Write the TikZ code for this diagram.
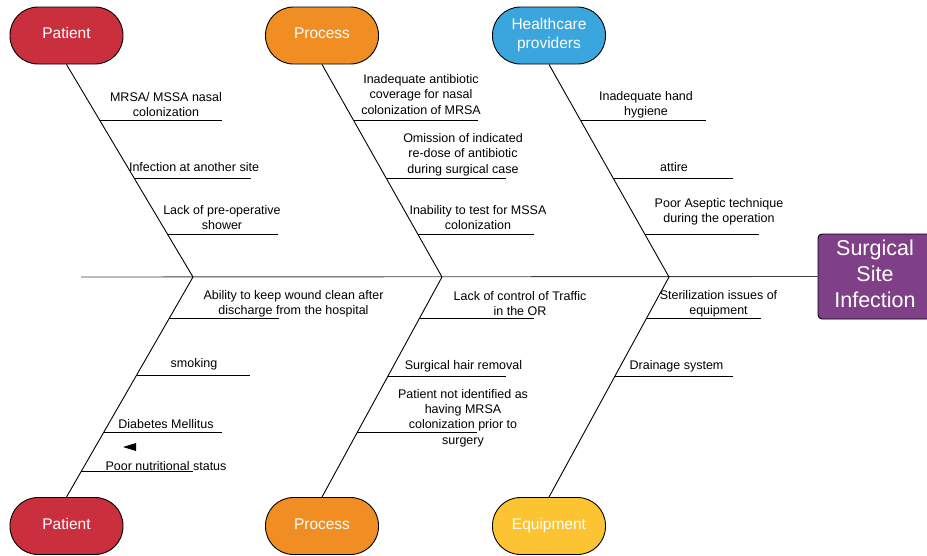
\documentclass[tikz,border=0pt]{standalone}
\usepackage{fontspec}
\setmainfont{Liberation Sans}
\usetikzlibrary{calc}
\definecolor{patred}{RGB}{201,47,60}
\definecolor{procorange}{RGB}{240,142,36}
\definecolor{careblue}{RGB}{59,166,222}
\definecolor{equipyellow}{RGB}{252,196,51}
\definecolor{ssipurple}{RGB}{128,64,135}

\begin{document}
\begin{tikzpicture}[x=1pt,y=-1pt,
 cat/.style={draw=black,line width=.9pt,rounded corners=28pt,minimum width=113pt,minimum height=57pt,
  text=white,font=\fontsize{15.5}{19}\selectfont,align=center,inner sep=0pt,text depth=4.5pt},
 cause/.style={font=\fontsize{12.5}{15.3}\selectfont,align=center,inner sep=0pt},
 bone/.style={line width=.9pt},
 twig/.style={line width=.8pt}]
 \useasboundingbox(0,0)rectangle(927,555);
 % category boxes, top row and bottom row
 \node[cat,fill=patred](patT)at(66.5,35.5){Patient};
 \node[cat,fill=procorange](proT)at(322,35.5){Process};
 \node[cat,fill=careblue](hcpT)at(549,35.5){Healthcare\\providers};
 \node[cat,fill=patred](patB)at(66.5,526){Patient};
 \node[cat,fill=procorange](proB)at(322,526){Process};
 \node[cat,fill=equipyellow](eqpB)at(549,526){Equipment};
 % the effect at the head of the fish
 \node[draw=black,line width=.9pt,fill=ssipurple,rounded corners=4pt,minimum width=114pt,minimum height=85pt,
  text=white,font=\fontsize{21.5}{26}\selectfont,align=center,inner sep=0pt,text depth=5pt](ssi)at(875,276.5){Surgical\\Site\\Infection};
 % spine
 \coordinate(tail)at(81,277);
 \coordinate(jP)at(193,277);
 \coordinate(jR)at(442,277);
 \coordinate(jH)at(669,277);
 \draw[line width=.9pt,black!75](tail)--(ssi.west);
 % bones; twigs leave them at fixed fractions of their length
 \draw[bone](patT.south)--(jP)coordinate[pos=.263](pt1)coordinate[pos=.535](pt2)coordinate[pos=.798](pt3);
 \draw[bone](proT.south)--(jR)coordinate[pos=.263](rt1)coordinate[pos=.535](rt2)coordinate[pos=.798](rt3);
 \draw[bone](hcpT.south)--(jH)coordinate[pos=.263](ht1)coordinate[pos=.535](ht2)coordinate[pos=.798](ht3);
 \draw[bone](patB.north)--(jP)coordinate[pos=.81](pb1)coordinate[pos=.552](pb2)coordinate[pos=.294](pb3)coordinate[pos=.118](pb4);
 \draw[bone](proB.north)--(jR)coordinate[pos=.81](rb1)coordinate[pos=.548](rb2)coordinate[pos=.294](rb3);
 \draw[bone](eqpB.north)--(jH)coordinate[pos=.81](eb1)coordinate[pos=.548](eb2);
 \foreach \p/\l in {pt1/122,pt2/117,pt3/111,rt1/124,rt2/120,rt3/116,ht1/125,ht2/120,ht3/114,
  pb1/110,pb2/114,pb3/118,pb4/112,rb1/115,rb2/118,rb3/120,eb1/115,eb2/118}
  \draw[twig](\p)--++(\l,0);
 % causes
 \node[cause](cNasal)at(166,104.5){MRSA/ MSSA nasal\\colonization};
 \node[cause](cSite)at(194,167){Infection at another site};
 \node[cause](cShower)at(222,217.5){Lack of pre-operative\\shower};
 \node[cause](cCover)at(421,94.5){Inadequate antibiotic\\coverage for nasal\\colonization of MRSA};
 \node[cause](cRedose)at(463,154.5){Omission of indicated\\re-dose of antibiotic\\during surgical case};
 \node[cause](cTest)at(478,217.5){Inability to test for MSSA\\colonization};
 \node[cause](cHand)at(646,104.5){Inadequate hand\\hygiene};
 \node[cause](cAttire)at(674,167){attire};
 \node[cause](cAseptic)at(719,211.5){Poor Aseptic technique\\during the operation};
 \node[cause](cWound)at(293.5,303.5){Ability to keep wound clean after\\discharge from the hospital};
 \node[cause](cSmoke)at(194,364){smoking};
 \node[cause](cDiab)at(166,424){Diabetes Mellitus};
 \node[cause](cNutri)at(166,466){Poor nutritional status};
 \node[cause](cTraffic)at(520,303.5){Lack of control of Traffic\\in the OR};
 \node[cause](cHair)at(463.5,366){Surgical hair removal};
 \node[cause](cNotId)at(463,418){Patient not identified as\\having MRSA\\colonization prior to\\surgery};
 \node[cause](cSteril)at(718.5,303.5){Sterilization issues of\\equipment};
 \node[cause](cDrain)at(676.5,366){Drainage system};
 % stray arrow tip
 \fill(123,447)--(136,443)--(136,451)--cycle;
\end{tikzpicture}
\end{document}
